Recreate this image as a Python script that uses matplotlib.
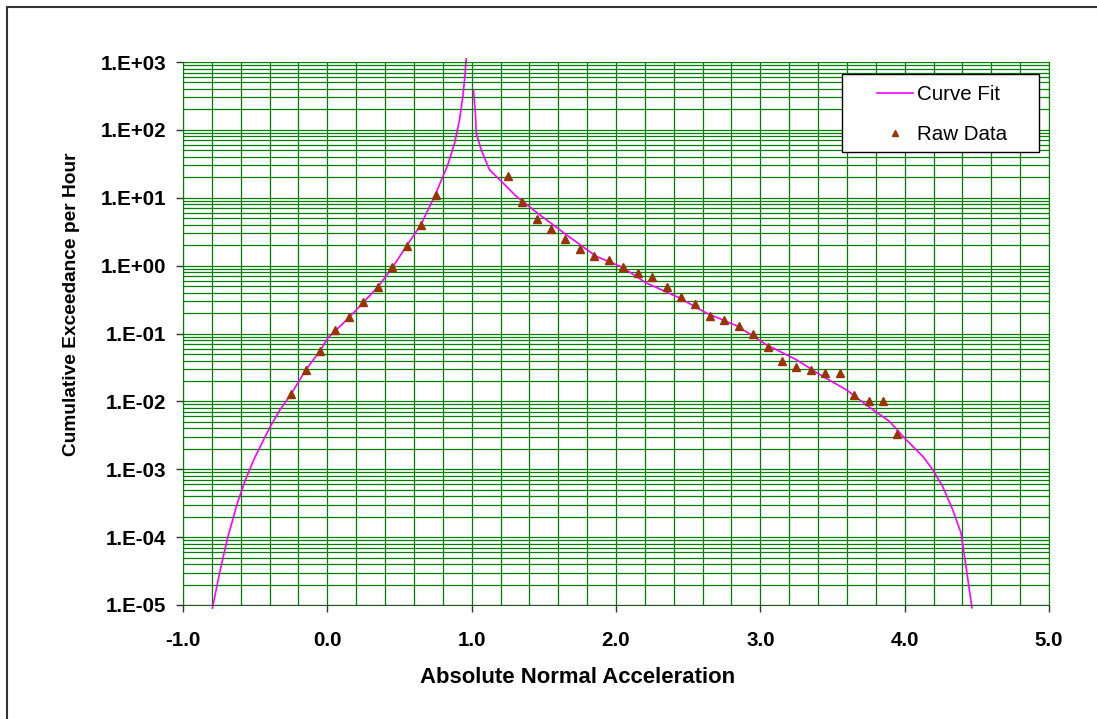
import numpy as np
import matplotlib
matplotlib.use('Agg')
import matplotlib.pyplot as plt
from matplotlib.ticker import FuncFormatter, LogLocator
from matplotlib.patches import Rectangle

plt.rcParams['font.family'] = ['Liberation Sans', 'DejaVu Sans']

# raw exceedance data
raw_x = [-0.25, -0.15, -0.05, 0.05, 0.15, 0.25, 0.35, 0.45, 0.55, 0.65, 0.75,
         1.25, 1.35, 1.45, 1.55, 1.65, 1.75, 1.85, 1.95, 2.05, 2.15,
         2.25, 2.35, 2.45, 2.55, 2.65, 2.75, 2.85, 2.95, 3.05, 3.15,
         3.25, 3.35, 3.45, 3.55, 3.65, 3.75, 3.85, 3.95]
raw_y = [0.0129, 0.029, 0.0547, 0.111, 0.173, 0.295, 0.485, 0.944, 1.95, 4.0, 11.1,
         20.9, 8.67, 4.87, 3.47, 2.47, 1.76, 1.40, 1.21, 0.944, 0.78,
         0.673, 0.49, 0.341, 0.269, 0.184, 0.158, 0.131, 0.0986, 0.0635, 0.039,
         0.0318, 0.0291, 0.0263, 0.0263, 0.0126, 0.01, 0.01, 0.00328]

# curve fit, negative-side branch
fit_left_x = [-0.796, -0.771, -0.746, -0.717, -0.688, -0.659, -0.630, -0.607, -0.573,
              -0.538, -0.505, -0.469, -0.435, -0.400, -0.33,
              -0.25, -0.15, -0.053, 0.004, 0.152, 0.35, 0.452, 0.549, 0.648,
              0.748, 0.778, 0.835, 0.882, 0.916, 0.939, 0.953, 0.962]
fit_left_y = [9.0e-6, 1.65e-5, 3.0e-5, 5.6e-5, 1.03e-4, 1.7e-4, 2.85e-4, 4.0e-4, 6.5e-4,
              9.9e-4, 1.45e-3, 2.07e-3, 2.9e-3, 4.07e-3, 7.4e-3,
              0.0129, 0.029, 0.0547, 0.086, 0.173, 0.485, 0.944, 1.95, 4.0,
              11.1, 15.8, 30.7, 64.1, 141, 312, 614, 1110]

# curve fit, positive-side branch
fit_right_x = [1.013, 1.027, 1.031, 1.066, 1.123, 1.205, 1.309, 1.47, 1.655,
               1.863, 2.045, 2.209, 2.313, 2.44, 2.625, 2.843, 3.04, 3.248,
               3.432, 3.594, 3.778, 3.894, 4.009, 4.125, 4.194, 4.263, 4.332,
               4.39, 4.425, 4.466]
fit_right_y = [382, 158, 90, 51, 25.9, 17.5, 10.5, 5.64, 2.86,
               1.37, 0.944, 0.556, 0.443, 0.334, 0.201, 0.128, 0.0687, 0.0413,
               0.0234, 0.0149, 0.00757, 0.00509, 0.00274, 0.00155, 0.00099, 0.00056, 0.000255,
               0.000116, 3.7e-5, 9.1e-6]

fig = plt.figure(figsize=(10.97, 7.19), dpi=100)
ax = fig.add_axes([183 / 1097, 1 - 605 / 719, 866 / 1097, 543 / 719])

# outer chart border (right/bottom run off the image)
fig.patches.append(Rectangle((7 / 1097, -0.1), 1.2, 1 - 7 / 719 + 0.1, transform=fig.transFigure,
                             fill=False, edgecolor='#333333', linewidth=1.5))

ax.set_yscale('log')
ax.set_xlim(-1, 5)
ax.set_ylim(1e-5, 1e3)

ax.set_xticks(np.arange(-1, 5.01, 1.0))
ax.set_xticks(np.arange(-1, 5.01, 0.2), minor=True)
ax.yaxis.set_major_locator(LogLocator(base=10, numticks=20))
ax.yaxis.set_minor_locator(LogLocator(base=10, subs=np.arange(2, 10), numticks=20))
ax.xaxis.set_major_formatter(FuncFormatter(lambda v, p: '%.1f' % v))
ax.yaxis.set_major_formatter(FuncFormatter(lambda v, p: '1.E%+03d' % int(round(np.log10(v)))))
ax.yaxis.set_minor_formatter(FuncFormatter(lambda v, p: ''))

ax.grid(True, which='both', color='#008000', linewidth=0.9)
ax.set_axisbelow(True)
for s in ['top', 'right', 'left']:
    ax.spines[s].set_color('#008000')
ax.spines['bottom'].set_color('#2a552a')

ax.tick_params(which='major', direction='out', length=5, width=1, color='#333333',
               labelsize=14.8)
ax.tick_params(axis='y', which='major', pad=7)
ax.tick_params(axis='x', which='major', pad=14)
ax.tick_params(which='minor', length=0)
for lbl in ax.get_xticklabels() + ax.get_yticklabels():
    lbl.set_fontweight('bold')

ax.plot(fit_left_x, fit_left_y, color='#ff00ff', linewidth=1.2, clip_on=False, label='Curve Fit')
ax.plot(fit_right_x, fit_right_y, color='#ff00ff', linewidth=1.2, clip_on=False)
ax.plot(raw_x, raw_y, linestyle='none', marker='^', markersize=5.5, color='#993300',
        label='Raw Data')

ax.set_xlabel('Absolute Normal Acceleration', fontsize=15.9, fontweight='bold')
ax.set_ylabel('Cumulative Exceedance per Hour', fontsize=13.8, fontweight='bold')
ax.xaxis.set_label_coords(0.4555, -0.114)
ax.yaxis.set_label_coords(-0.119, 0.5534)

# legend box drawn separately to get the wide Excel-style padding
ax.add_patch(Rectangle((0.7606, 0.8343), 0.2282, 0.143, transform=ax.transAxes,
                       facecolor='white', edgecolor='black', linewidth=1, zorder=4.5))
ax.legend(loc='upper left', bbox_to_anchor=(0.8014, 0.958), frameon=False,
          borderpad=0, borderaxespad=0, handlelength=1.75, handletextpad=0.2,
          labelspacing=1.05, fontsize=14.8, markerscale=0.8)

fig.savefig('out.png', dpi=100)
